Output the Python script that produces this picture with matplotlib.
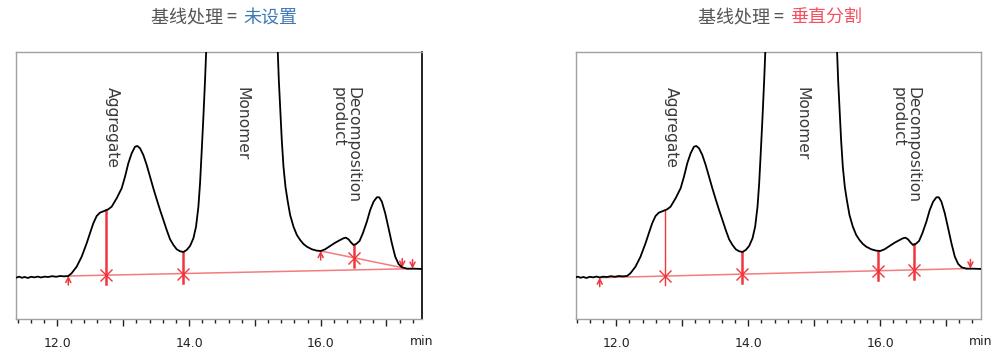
import numpy as np
import matplotlib
matplotlib.use("Agg")
import matplotlib.pyplot as plt
from matplotlib.ticker import MultipleLocator

plt.rcParams['font.family'] = ['DejaVu Sans']

# chromatogram trace (time in min, signal in arbitrary units)
times = [11.38, 11.42, 11.46, 11.50, 11.55, 11.60, 11.65, 11.70, 11.75, 11.80, 11.86, 11.92, 11.98, 12.04, 12.10,
         12.165, 12.215, 12.292, 12.368, 12.444, 12.494, 12.545, 12.596, 12.646, 12.722, 12.773, 12.824, 12.900,
         12.976, 13.027, 13.077, 13.128, 13.179, 13.214, 13.255, 13.305, 13.356, 13.407, 13.457, 13.508, 13.559,
         13.610, 13.660, 13.711, 13.762, 13.812, 13.863, 13.914, 13.964, 14.015, 14.066, 14.106, 14.142, 14.167,
         14.193, 14.218, 14.243, 14.259, 14.30, 14.45, 14.75, 15.05, 15.25, 15.32,
         15.349, 15.364, 15.384, 15.409, 15.435, 15.465, 15.496, 15.536, 15.587, 15.638, 15.688, 15.739, 15.790,
         15.866, 15.942, 16.003, 16.068, 16.144, 16.221, 16.297, 16.347, 16.383, 16.423, 16.459, 16.499, 16.540,
         16.591, 16.641, 16.702, 16.753, 16.804, 16.854, 16.890, 16.930, 16.981, 17.032, 17.082, 17.133, 17.184,
         17.235, 17.311, 17.412, 17.539]
signal = [41.5, 42.3, 41.2, 42.0, 41.0, 42.2, 41.6, 42.4, 41.5, 42.3, 42.0, 42.8, 42.2, 43.0, 42.6,
          43.0, 45.7, 52.3, 62.3, 75.7, 85.7, 95.7, 103.0, 106.3, 108.3, 109.7, 112.3, 120.7,
          130.7, 142.3, 155.7, 165.7, 172.3, 173.0, 170.7, 164.0, 154.0, 142.3, 130.7, 119.7, 109.0,
          99.0, 89.0, 79.7, 74.0, 69.7, 67.7, 67.0, 69.0, 73.0, 80.7, 92.3, 112.3, 135.7,
          169.0, 202.3, 239.0, 265.7, 360.0, 800.0, 1100.0, 850.0, 450.0, 320.0,
          265.7, 239.0, 212.3, 179.0, 152.3, 132.3, 119.0, 104.0, 92.3, 84.0, 79.0, 75.0, 72.3,
          69.7, 68.3, 68.0, 69.7, 73.0, 76.3, 79.0, 80.7, 81.3, 79.7, 76.7, 74.0, 75.0,
          78.0, 85.7, 97.3, 109.0, 117.3, 121.7, 121.7, 117.3, 105.7, 90.7, 75.7, 62.3, 55.0,
          51.7, 50.3, 50.3, 50.0]

# left panel: baseline not set (main baseline + skim line)
left_base_t = [12.165, 17.396]
left_base_s = [43.0, 50.3]
left_drops = [12.74, 13.91]
skim_t = [16.00, 17.24]
skim_s = [68.0, 51.3]
skim_drops = [16.50]

# right panel: vertical split
right_base_t = [11.75, 17.37]
right_base_s = [41.3, 50.5]
right_drops = [12.74, 13.91, 15.97, 16.52]
right_drop_lw = [1.0, 1.8, 1.8, 1.8]

tick_pos = [12, 13, 14, 15, 16, 17]
tick_labels = ['12.0', '', '14.0', '', '16.0', '']

peak_labels = ['Aggregate', 'Monomer', 'Decomposition\nproduct']
peak_label_t = [12.84, 14.81, 16.38]

RED = '#f0363c'
RED_LIGHT = '#f27c7e'


def up_arrow(ax, t, s):
    ax.annotate('', xy=(t, s), xytext=(t, s - 9),
                arrowprops=dict(arrowstyle='->,head_length=0.35,head_width=0.18', color=RED, lw=1.1,
                                shrinkA=0, shrinkB=0))


def down_arrow(ax, t, s):
    ax.annotate('', xy=(t, s), xytext=(t, s + 9),
                arrowprops=dict(arrowstyle='->,head_length=0.35,head_width=0.18', color=RED, lw=1.1,
                                shrinkA=0, shrinkB=0))


def drop(ax, t, base_t, base_s, lw=1.8):
    top = np.interp(t, times, signal)
    b = np.interp(t, base_t, base_s)
    ax.plot([t, t], [top, b - 9], color=RED, lw=lw, zorder=3)
    ax.plot([t], [b], marker='x', color=RED, ms=8, mew=1.0, zorder=4)


def setup(ax, xlim, right_dark=False):
    ax.plot(times, signal, color='black', lw=1.3, zorder=5)
    ax.set_xlim(*xlim)
    ax.set_ylim(0, 267)
    ax.set_yticks([])
    ax.set_xticks(tick_pos, labels=tick_labels)
    ax.xaxis.set_minor_locator(MultipleLocator(0.2))
    ax.tick_params(axis='x', which='major', length=5, width=1, color='#222', pad=8, labelsize=9,
                   labelcolor='#222')
    ax.tick_params(axis='x', which='minor', length=3, width=1, color='#222')
    for sp in ax.spines.values():
        sp.set_color('#a0a0a0')
        sp.set_linewidth(1)
    if right_dark:
        ax.spines['right'].set_color('#111')
        ax.spines['right'].set_linewidth(1.3)
    ax.text(1.0, -0.086, 'min', transform=ax.transAxes, ha='center', va='center', fontsize=9, color='#222')
    for lab, t in zip(peak_labels, peak_label_t):
        ax.text(t, 232, lab, rotation=-90, ha='center', va='top', fontsize=11.2, color='#3a3a3a',
                multialignment='left', linespacing=1.0)


fig = plt.figure(figsize=(10, 3.56), dpi=100)
ax1 = fig.add_axes([0.016, 0.104, 0.406, 0.75])
ax2 = fig.add_axes([0.576, 0.104, 0.405, 0.75])

# left panel
setup(ax1, (11.37, 17.54), right_dark=True)
ax1.plot(left_base_t, left_base_s, color=RED_LIGHT, lw=1.1, zorder=2)
ax1.plot(skim_t, skim_s, color=RED_LIGHT, lw=1.1, zorder=2)
for t in left_drops:
    drop(ax1, t, left_base_t, left_base_s)
for t in skim_drops:
    drop(ax1, t, skim_t, skim_s)
up_arrow(ax1, left_base_t[0], left_base_s[0])
up_arrow(ax1, skim_t[0], skim_s[0])
down_arrow(ax1, skim_t[1], skim_s[1])
down_arrow(ax1, left_base_t[1], left_base_s[1])

# right panel
setup(ax2, (11.39, 17.53))
ax2.plot(right_base_t, right_base_s, color=RED_LIGHT, lw=1.1, zorder=2)
for t, lw in zip(right_drops, right_drop_lw):
    drop(ax2, t, right_base_t, right_base_s, lw=lw)
up_arrow(ax2, right_base_t[0], right_base_s[0])
down_arrow(ax2, right_base_t[1], right_base_s[1])

# titles with two colours
cjk = ['Noto Sans CJK SC', 'DejaVu Sans']
fig.text(0.237, 0.949, '基线处理 =', ha='right', va='center', fontsize=13, color='#555555', family=cjk)
fig.text(0.243, 0.949, '未设置', ha='left', va='center', fontsize=13, color='#3f78b5', family=cjk)
fig.text(0.784, 0.949, '基线处理 =', ha='right', va='center', fontsize=13, color='#555555', family=cjk)
fig.text(0.790, 0.949, '垂直分割', ha='left', va='center', fontsize=13, color='#f4505f', family=cjk)

fig.savefig('out.png', dpi=100)
